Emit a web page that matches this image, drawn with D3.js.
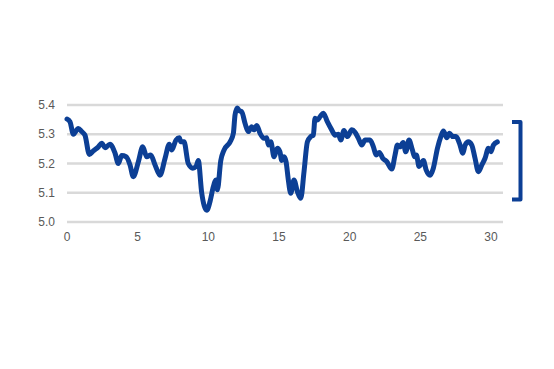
<!DOCTYPE html>
<html>
<head>
<meta charset="utf-8">
<script src="https://cdn.jsdelivr.net/npm/d3@7"></script>
<style>
html,body{margin:0;padding:0;background:#fff;}
svg{display:block;}
text{font-family:"Liberation Sans",Arial,sans-serif;}
</style>
</head>
<body>
<svg id="chart" width="554" height="369"></svg>
<script>
const xValues = [0,0.21,0.45,0.80,1.04,1.27,1.58,1.86,2.22,2.46,2.69,3.04,3.40,3.63,3.87,4.18,4.46,4.69,5.05,5.36,5.64,5.92,6.23,6.58,6.94,7.24,7.41,7.71,7.95,8.05,8.28,8.58,8.90,9.13,9.29,9.53,9.89,10.12,10.35,10.55,10.64,10.88,11.11,11.54,11.77,11.89,12.05,12.19,12.36,12.60,12.83,13.07,13.23,13.43,13.66,13.94,14.13,14.25,14.42,14.65,14.88,15.07,15.19,15.36,15.50,15.66,15.83,16.06,16.30,16.54,16.77,17.01,17.25,17.43,17.55,17.71,17.91,18.14,18.42,18.73,18.97,19.20,19.37,19.60,19.84,20.15,20.38,20.62,20.86,21.09,21.44,21.68,21.87,22.10,22.34,22.63,22.98,23.21,23.38,23.57,23.78,23.97,24.20,24.44,24.60,24.72,24.91,25.22,25.41,25.69,25.92,26.21,26.45,26.63,26.87,27.06,27.30,27.53,27.77,28.01,28.17,28.40,28.64,28.87,29.11,29.35,29.58,29.82,29.99,30.17,30.45];
const yValues = [5.352,5.343,5.300,5.320,5.309,5.297,5.231,5.243,5.257,5.269,5.254,5.266,5.235,5.200,5.227,5.223,5.195,5.155,5.206,5.257,5.223,5.229,5.195,5.160,5.218,5.266,5.246,5.280,5.288,5.274,5.274,5.200,5.184,5.190,5.210,5.100,5.040,5.070,5.120,5.144,5.110,5.210,5.246,5.274,5.303,5.366,5.390,5.380,5.377,5.337,5.309,5.326,5.315,5.330,5.303,5.286,5.288,5.263,5.274,5.223,5.252,5.240,5.210,5.223,5.206,5.144,5.098,5.144,5.104,5.081,5.172,5.274,5.292,5.297,5.355,5.349,5.360,5.372,5.343,5.315,5.297,5.300,5.280,5.313,5.292,5.315,5.307,5.286,5.263,5.280,5.280,5.257,5.229,5.238,5.218,5.206,5.181,5.229,5.263,5.257,5.272,5.240,5.280,5.246,5.223,5.229,5.190,5.210,5.178,5.160,5.184,5.252,5.292,5.311,5.288,5.303,5.292,5.292,5.269,5.235,5.263,5.274,5.263,5.218,5.172,5.195,5.218,5.252,5.240,5.263,5.274];
const yTicks = [5.0, 5.1, 5.2, 5.3, 5.4];
const xTicks = [0, 5, 10, 15, 20, 25, 30];

const svg = d3.select("#chart");
const x = d3.scaleLinear().domain([0, 30]).range([67, 491]);
const y = d3.scaleLinear().domain([5.0, 5.4]).range([222, 105]);
const gridEnd = 503;

// gridlines
svg.append("g").selectAll("line").data(yTicks).join("line")
  .attr("x1", x(0)).attr("x2", gridEnd)
  .attr("y1", d => y(d)).attr("y2", d => y(d))
  .attr("stroke", "#d9d9d9").attr("stroke-width", 2.6);

// y labels
svg.append("g").selectAll("text").data(yTicks).join("text")
  .attr("x", 55).attr("y", d => y(d) + 4.2)
  .attr("text-anchor", "end").attr("font-size", 12).attr("fill", "#595959")
  .text(d => d.toFixed(1));

// x labels
svg.append("g").selectAll("text").data(xTicks).join("text")
  .attr("x", d => x(d)).attr("y", 241)
  .attr("text-anchor", "middle").attr("font-size", 12).attr("fill", "#595959")
  .text(d => d);

// line
const pts = xValues.map((v, i) => [v, yValues[i]]);
const line = d3.line().x(d => x(d[0])).y(d => y(d[1])).curve(d3.curveMonotoneX);
svg.append("path").datum(pts)
  .attr("d", line)
  .attr("fill", "none")
  .attr("stroke", "#0c3f95")
  .attr("stroke-width", 5)
  .attr("stroke-linejoin", "round")
  .attr("stroke-linecap", "round");

// bracket on right
svg.append("path")
  .attr("d", "M512,122 H520.5 V199.5 H512")
  .attr("fill", "none")
  .attr("stroke", "#0c3f95")
  .attr("stroke-width", 4)
  .attr("stroke-linejoin", "round");
</script>
</body>
</html>
